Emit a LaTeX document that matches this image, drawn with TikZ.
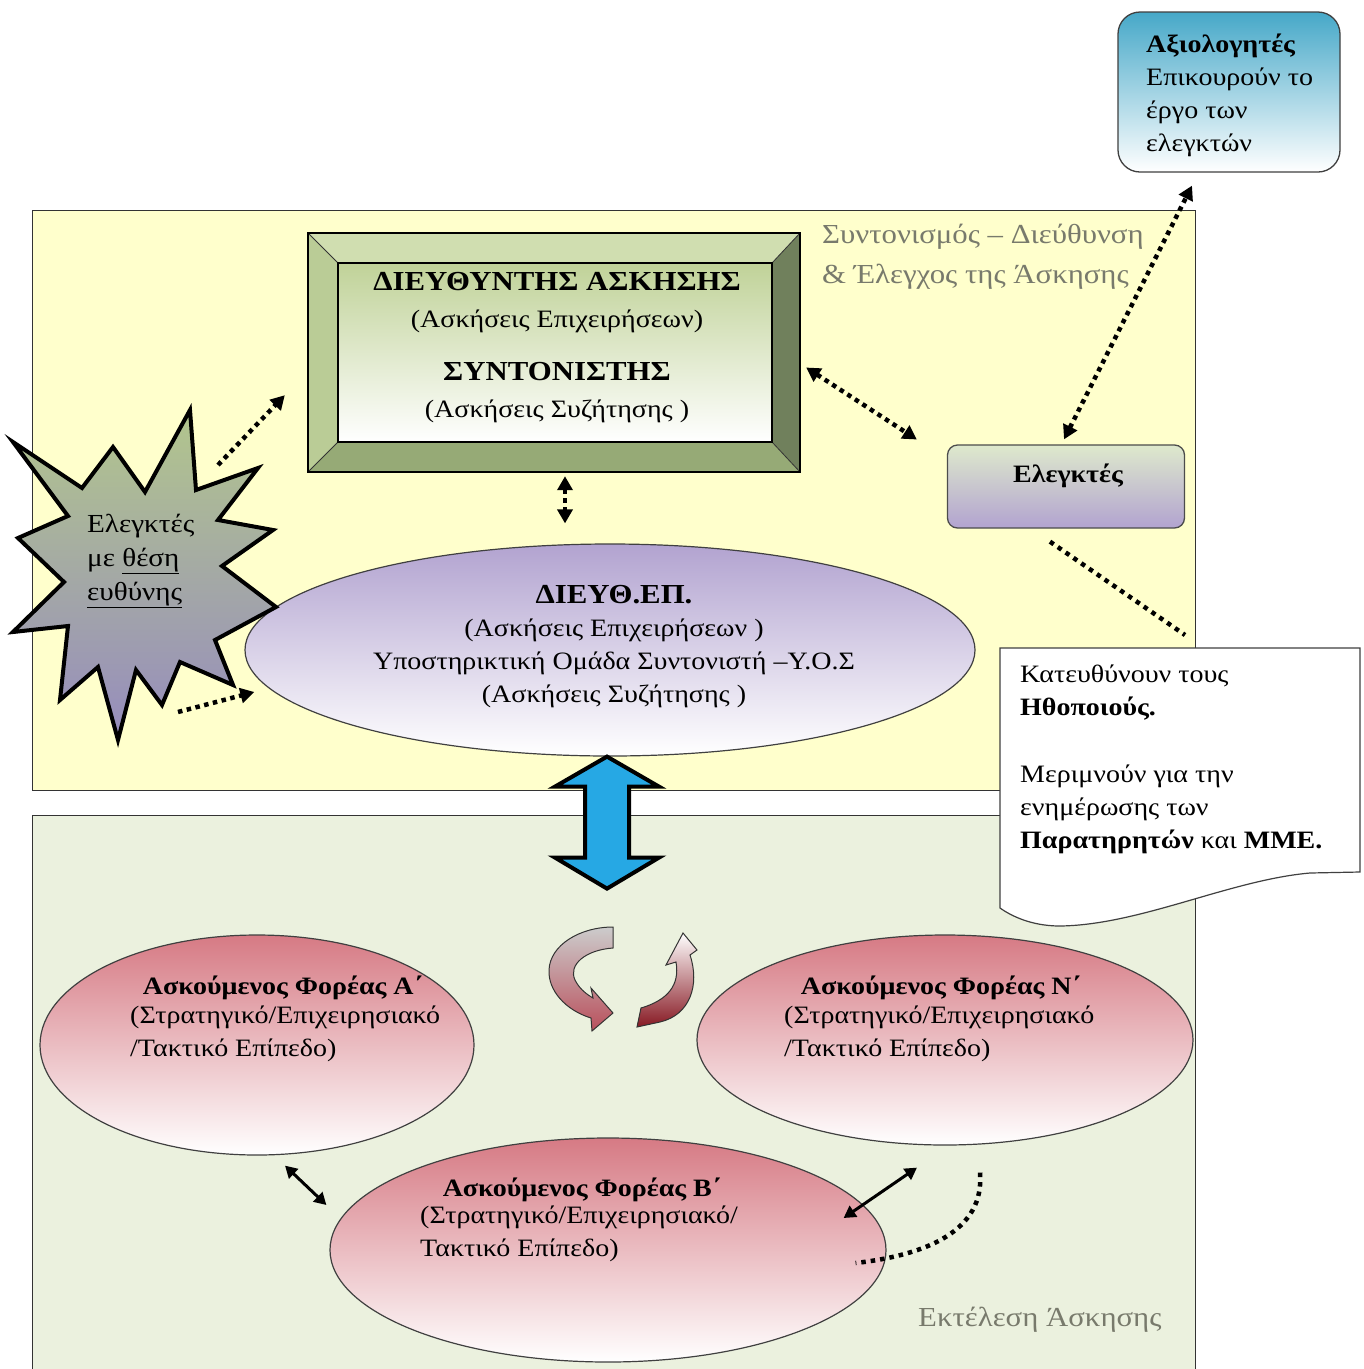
\documentclass[tikz,border=0pt]{standalone}
\usepackage{fontspec}
\setmainfont{Liberation Serif}[FakeStretch=1.12]
\usetikzlibrary{arrows.meta,shapes.geometric,calc}
\definecolor{ybg}{RGB}{255,255,204}
\definecolor{gbg}{RGB}{235,241,222}
\definecolor{bevtop}{RGB}{208,222,176}
\definecolor{bevleft}{RGB}{186,204,150}
\definecolor{bevright}{RGB}{112,128,92}
\definecolor{bevbot}{RGB}{150,170,118}
\definecolor{bevin}{RGB}{192,210,152}
\definecolor{purp}{RGB}{178,163,208}
\definecolor{elgtop}{RGB}{222,233,204}
\definecolor{rosy}{RGB}{214,122,132}
\definecolor{skyb}{RGB}{70,168,200}
\definecolor{arrblue}{RGB}{38,168,228}
\definecolor{lblgray}{RGB}{120,122,108}
\definecolor{stargreen}{RGB}{178,198,140}
\definecolor{starpurp}{RGB}{150,140,190}
\definecolor{darkred}{RGB}{135,25,35}
\definecolor{midred}{RGB}{185,80,92}
\tikzset{
  panelbox/.style={draw=black!80, line width=1.3pt, inner sep=0pt, anchor=north west},
  txt/.style={inner sep=0pt, font=\fontsize{25}{33}\selectfont},
  lbl/.style={inner sep=0pt, font=\fontsize{27.5}{40}\selectfont, text=lblgray, align=left},
  hd/.style={inner sep=0pt, font=\fontsize{25}{33}\selectfont\bfseries},
  dotarrow/.style={line width=4.5pt, dash pattern=on 4.5pt off 4.5pt,
     {Triangle[length=14pt,width=15pt]}-{Triangle[length=14pt,width=15pt]}},
  dotone/.style={line width=4.5pt, dash pattern=on 4.5pt off 4.5pt,
     -{Triangle[length=14pt,width=15pt]}},
  dotline/.style={line width=4.5pt, dash pattern=on 4.5pt off 5pt},
  solidarrow/.style={line width=3pt,
     {Triangle[length=12pt,width=13pt]}-{Triangle[length=12pt,width=13pt]}},
  redell/.style={ellipse, draw=black!75, line width=1.2pt, top color=rosy, bottom color=white, inner sep=0pt},
}
\begin{document}
\begin{tikzpicture}[x=1pt,y=-1pt]
\clip (0,0) rectangle (1364,1369);
\useasboundingbox (0,0) rectangle (1364,1369);
\fill[white] (0,0) rectangle (1364,1369);

% panels
\node[panelbox, fill=ybg, minimum width=1163, minimum height=580] (ypanel) at (32,210) {};
\node[panelbox, fill=gbg, minimum width=1163, minimum height=570] (gpanel) at (32,815) {};
\node[lbl, anchor=north west] (ylabel) at (822,224) {Συντονισμός – Διεύθυνση\\\& Έλεγχος της Άσκησης};
\node[lbl, anchor=west] (glabel) at (918,1320) {Εκτέλεση Άσκησης};

% note (document shape)
\coordinate (nNW) at (1000,648);
\coordinate (nNE) at (1360,648);
\draw[draw=black!75, line width=1.2pt, fill=white] (nNW) -- (nNE) -- (1360,872) -- (1310,873)
   .. controls (1230,880) and (1140,925) .. (1060,926)
   .. controls (1030,926) and (1010,915) .. (1000,908) -- cycle;
\node[txt, anchor=north west, align=left] (notetext) at (1020,665)
  {Κατευθύνουν τους\\\textbf{Ηθοποιούς.}\\[34pt]Μεριμνούν για την\\ενημέρωσης των\\\textbf{Παρατηρητών} και \textbf{ΜΜΕ.}};

% top right box
\node[draw=black!75, line width=1.3pt, rounded corners=22, top color=skyb, bottom color=white,
      minimum width=222, minimum height=160, inner sep=0] (axiol) at (1229,92) {};
\node[txt, anchor=north west, align=left] (axtext) at (1146,34)
  {\textbf{Αξιολογητές}\\Επικουρούν το\\έργο των\\ελεγκτών};

% bevel box
\node[minimum width=492, minimum height=239, inner sep=0] (dir) at (554,352.5) {};
\node[minimum width=434, minimum height=179, inner sep=0] (dirin) at (555,352.5) {};
\fill[bevtop] (dir.north west) -- (dir.north east) -- (dirin.north east) -- (dirin.north west) -- cycle;
\fill[bevleft] (dir.north west) -- (dirin.north west) -- (dirin.south west) -- (dir.south west) -- cycle;
\fill[bevright] (dir.north east) -- (dir.south east) -- (dirin.south east) -- (dirin.north east) -- cycle;
\fill[bevbot] (dir.south west) -- (dirin.south west) -- (dirin.south east) -- (dir.south east) -- cycle;
\draw[black!80, line width=0.8pt] (dir.north west) -- (dirin.north west) (dir.north east) -- (dirin.north east)
  (dir.south west) -- (dirin.south west) (dir.south east) -- (dirin.south east);
\shade[top color=bevin, bottom color=white] (dirin.north west) rectangle (dirin.south east);
\draw[black, line width=1.6pt] (dirin.north west) rectangle (dirin.south east);
\draw[black, line width=1.8pt] (dir.north west) rectangle (dir.south east);
\node[txt, align=center, font=\fontsize{25}{37}\selectfont] (dirtext) at (557,348)
  {{\fontsize{27.5}{37}\selectfont\bfseries ΔΙΕΥΘΥΝΤΗΣ ΑΣΚΗΣΗΣ}\\(Ασκήσεις Επιχειρήσεων)\\[16pt]{\fontsize{27.5}{37}\selectfont\bfseries ΣΥΝΤΟΝΙΣΤΗΣ}\\(Ασκήσεις Συζήτησης )};

% Elegktes box
\node[draw=black!70, line width=1.3pt, rounded corners=10, top color=elgtop, bottom color=purp,
      minimum width=237, minimum height=83, inner sep=0] (elegk) at (1066,486.5) {};
\node[hd] (elegktext) at (1068,476) {Ελεγκτές};

% DIEYTH.EP ellipse
\node[ellipse, draw=black!75, line width=1.2pt, top color=purp, bottom color=white,
      minimum width=730, minimum height=212, inner sep=0] (diep) at (610,650) {};
\node[txt, align=center] (dieptext) at (614,647)
  {{\fontsize{27.5}{33}\selectfont\bfseries ΔΙΕΥΘ.ΕΠ.}\\(Ασκήσεις Επιχειρήσεων )\\Υποστηρικτική Ομάδα Συντονιστή –Υ.Ο.Σ\\(Ασκήσεις Συζήτησης )};

% starburst
\path[draw=black, line width=4pt, line join=miter, miter limit=20, top color=stargreen, bottom color=starpurp]
  (13,442) -- (82,488) -- (113,447) -- (145,492) -- (190,410) -- (196,490) -- (258,468) -- (218,520)
  -- (273,530) -- (222,566) -- (276,607) -- (215,640) -- (233,685) -- (180,662) -- (162,705)
  -- (136,670) -- (118,740) -- (98,667) -- (60,700) -- (68,626) -- (13,632) -- (64,582)
  -- (18,538) -- (68,516) -- cycle;
\node[anchor=north west, align=left, inner sep=0pt, font=\fontsize{26}{34}\selectfont] (startext) at (87,514)
  {Ελεγκτές\\με \underline{θέση}\\\underline{ευθύνης}};
\coordinate (st1) at (218,465);
\coordinate (st2) at (178,712);

% red ellipses
\node[redell, minimum width=434, minimum height=220] (fa) at (257,1045) {};
\node[redell, minimum width=496, minimum height=210] (fn) at (945,1040) {};
\node[redell, minimum width=556, minimum height=224] (fb) at (608,1250) {};
\node[hd] (fah) at (283,988) {Ασκούμενος Φορέας Α΄};
\node[txt, anchor=north west, align=left] (fat) at (130,1006) {(Στρατηγικό/Επιχειρησιακό\\/Τακτικό Επίπεδο)};
\node[hd] (fnh) at (941,988) {Ασκούμενος Φορέας Ν΄};
\node[txt, anchor=north west, align=left] (fnt) at (784,1006) {(Στρατηγικό/Επιχειρησιακό\\/Τακτικό Επίπεδο)};
\node[hd] (fbh) at (582,1190) {Ασκούμενος Φορέας Β΄};
\node[txt, anchor=north west, align=left] (fbt) at (420,1206) {(Στρατηγικό/Επιχειρησιακό/\\Τακτικό Επίπεδο)};

% big blue double arrow
\coordinate (bt) at ($(diep.south)+(-3,0)$);
\draw[black, line width=4pt, line join=miter, fill=arrblue]
  (bt) -- ++(52,30) -- ++(-30,0) -- ++(0,71) -- ++(30,0) -- ++(-52,31)
  -- ++(-52,-31) -- ++(30,0) -- ++(0,-71) -- ++(-30,0) -- cycle;

% circular arrows
\path[draw=black!80, line width=1pt, top color=black!20, bottom color=midred]
  (613,927) -- (613,948) .. controls (585,950) and (568,965) .. (575,980)
  .. controls (580,990) and (588,995) .. (593,998) -- (591,988) -- (613,1013) -- (592,1031)
  -- (591,1018) .. controls (565,1010) and (548,990) .. (549,970)
  .. controls (550,945) and (580,927) .. (613,927) -- cycle;
\path[draw=black!80, line width=1pt, top color=white, bottom color=darkred]
  (637,1027) -- (641,1008) .. controls (668,1000) and (680,985) .. (676,962) -- (666,965)
  -- (683,933) -- (697,950) -- (690,955) .. controls (700,985) and (690,1015) .. (660,1022) -- cycle;

% dotted connectors
\draw[dotarrow] ($(dir.east)+(6,15)$) -- ($(elegk.west)+(-30,-47)$);
\draw[dotarrow] ($(elegk.north)+(-2,-5)$) -- ($(axiol.south)+(-37,13)$);
\draw[dotarrow] ($(dir.south)+(11,4)$) -- ($(diep.north)+(-45,-20)$);
\draw[dotone] (st1) -- ($(dir.south west)+(-23,-77)$);
\draw[dotone] (st2) -- ($(diep.west)+(10,42)$);
\draw[dotline] ($(elegk.south)+(-16,13)$) -- ($(nNW)+(185,-13)$);
\draw[dotline] ($(fn.south)+(35,27)$) .. controls ($(fn.south)+(40,85)$) and ($(fb.east)+(40,5)$) .. ($(fb.east)+(-31,13)$);

% solid double arrows
\draw[solidarrow] ($(fa.south)+(28,10)$) -- ($(fb.west)+(-3,-45)$);
\draw[solidarrow] ($(fb.east)+(-43,-32)$) -- ($(fn.south)+(-28,22)$);
\end{tikzpicture}
\end{document}
